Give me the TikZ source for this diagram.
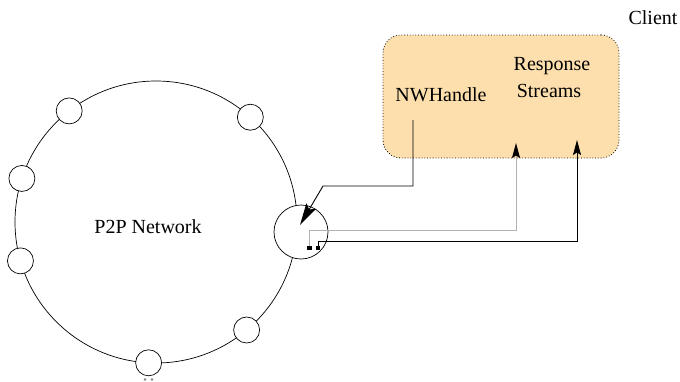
\documentclass[tikz,border=0pt]{standalone}
\usepackage{fontspec}
\setmainfont{Liberation Serif}
\usetikzlibrary{arrows.meta}
\definecolor{boxfill}{RGB}{252,223,172}
\begin{document}
\begin{tikzpicture}[x=1pt,y=-1pt,
  peer/.style={circle,draw,fill=white,minimum size=26pt,inner sep=0pt,line width=0.7pt},
  lbl/.style={font=\fontsize{20}{23}\selectfont,inner sep=0pt},
  conn/.style={line width=0.9pt},
  dotsq/.style={fill=black,minimum size=4.2pt,inner sep=0pt},
  bigtip/.style={-{Stealth[length=22pt,width=11pt,inset=4pt]}},
  uptip/.style={-{Stealth[black,length=15pt,width=8pt,inset=2.5pt]}}]
\useasboundingbox[fill=white] (0,0) rectangle (680,381);
% client box
\node (client) [draw,dotted,line width=0.8pt,rounded corners=18pt,fill=boxfill,
  minimum width=236pt,minimum height=123pt] at (501,96.5) {};
\node[lbl] (clientlbl) at (653,18) {Client};
\node[lbl] (nwh) at (441,95) {NWHandle};
\node[lbl] (resp) at (552,66) {Response};
\node[lbl] (streams) at (549,91) {Streams};
% network
\node (net) [circle,draw,line width=0.7pt,minimum size=282pt,inner sep=0pt,outer sep=0pt] at (156,222) {};
\node[lbl] (p2p) at (148,227) {P2P Network};
\node[peer] (p1) at (net.128.7) {};
\node[peer] (p2) at (net.48) {};
\node[peer] (p3) at (net.162) {};
\node[peer] (p4) at (net.196) {};
\node[peer] (p5) at (net.-50) {};
\node[peer] (p6) at (net.-93.5) {};
\node[peer,minimum size=54pt] (me) at (301,232) {};
\fill[gray] (145,379.5) circle (1.3pt) (152,379.5) circle (1.3pt);
% connectors
\coordinate (a1) at (413,120);
\coordinate (a2) at (413,186);
\coordinate (a3) at (323,186);
\coordinate (a4) at (300,225);
\draw[conn,bigtip] (a1) -- (a2) -- (a3) -- (a4);
\node[dotsq] (d1) at (309.5,248) {};
\node[dotsq] (d2) at (318,248) {};
\coordinate (t1) at (516,143);
\coordinate (t2) at (577,140);
\draw[conn,gray!60,uptip] (d1.north) -- ++(0,-15) -| (t1);
\draw[conn,uptip] (d2.north) -- ++(0,-4) -| (t2);
\end{tikzpicture}
\end{document}
